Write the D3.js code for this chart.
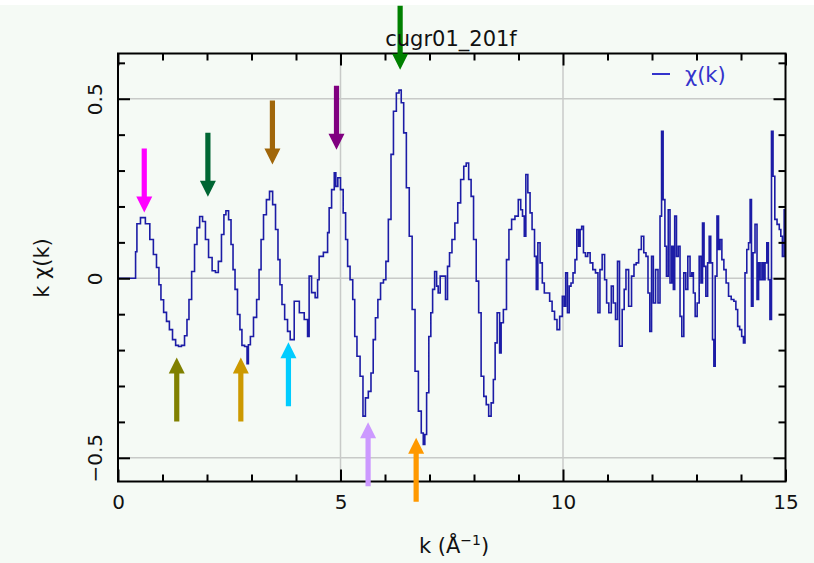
<!DOCTYPE html>
<html>
<head>
<meta charset="utf-8">
<script src="https://cdn.jsdelivr.net/npm/d3@7"></script>
<style>
  body { margin: 0; background: #f5faf5; }
  svg { display: block; font-family: "DejaVu Sans", Verdana, sans-serif; }
</style>
</head>
<body>
<script>
// k grid (1/Angstrom) and k*chi(k)
const kValues = [
  0, 0.39, 0.40, 0.45, 0.56, 0.67, 0.76, 0.83, 0.90, 0.94, 0.99, 1.06, 1.12, 1.19, 1.26, 1.33, 1.39, 1.46, 1.53, 1.57,
  1.62, 1.69, 1.75, 1.80, 1.87, 1.93, 2.00, 2.07, 2.16, 2.22, 2.29, 2.36, 2.40, 2.45, 2.52, 2.56, 2.61, 2.65, 2.72, 2.76,
  2.81, 2.88, 2.92, 2.94, 3.01, 3.08, 3.15, 3.19, 3.24, 3.30, 3.37, 3.44, 3.51, 3.57, 3.62, 3.66, 3.71, 3.78, 3.84, 3.90,
  4.02, 4.13, 4.24, 4.28, 4.31, 4.39, 4.47, 4.50, 4.54, 4.69, 4.73, 4.76, 4.84, 4.88, 4.91, 4.97, 5.03, 5.09, 5.14, 5.18,
  5.25, 5.30, 5.34, 5.40, 5.48, 5.53, 5.59, 5.66, 5.71, 5.76, 5.81, 5.87, 5.93, 6.00, 6.04, 6.11, 6.16, 6.22, 6.29, 6.34,
  6.39, 6.45, 6.51, 6.58, 6.64, 6.71, 6.79, 6.84, 6.88, 6.91, 6.96, 7.01, 7.05, 7.09, 7.14, 7.18, 7.21, 7.27, 7.33, 7.39,
  7.42, 7.48, 7.53, 7.61, 7.66, 7.74, 7.80, 7.85, 7.91, 7.96, 8.02, 8.08, 8.13, 8.19, 8.25, 8.30, 8.36, 8.41, 8.46, 8.49,
  8.55, 8.60, 8.62, 8.70, 8.76, 8.81, 8.88, 8.96, 9.03, 9.07, 9.11, 9.15, 9.18, 9.24, 9.28, 9.33, 9.39, 9.41, 9.46, 9.51,
  9.56, 9.60, 9.67, 9.73, 9.78, 9.84, 9.89, 9.96, 10.01, 10.04, 10.08, 10.12, 10.16, 10.20, 10.25, 10.29, 10.33, 10.37, 10.40, 10.44,
  10.48, 10.53, 10.58, 10.64, 10.70, 10.76, 10.81, 10.85, 10.91, 10.96, 11.00, 11.06, 11.11, 11.15, 11.21, 11.24, 11.30, 11.36, 11.39, 11.44,
  11.51, 11.57, 11.62, 11.67, 11.73, 11.79, 11.84, 11.89, 11.93, 11.97, 12.01, 12.05, 12.11, 12.16, 12.20, 12.23, 12.27, 12.31, 12.34, 12.39,
  12.42, 12.47, 12.49, 12.53, 12.57, 12.61, 12.65, 12.69, 12.74, 12.78, 12.83, 12.88, 12.91, 12.95, 12.99, 13.04, 13.08, 13.12, 13.15, 13.19,
  13.23, 13.27, 13.30, 13.34, 13.38, 13.40, 13.44, 13.48, 13.51, 13.55, 13.59, 13.64, 13.69, 13.75, 13.81, 13.87, 13.90, 13.95, 13.99, 14.04,
  14.07, 14.11, 14.15, 14.19, 14.22, 14.25, 14.29, 14.34, 14.38, 14.41, 14.45, 14.49, 14.52, 14.56, 14.60, 14.63, 14.67, 14.70, 14.74, 14.78,
  14.84, 14.88, 14.91, 14.95, 14.99
];
const chiValues = [
  0, 0, 0.074, 0.152, 0.169, 0.152, 0.108, 0.066, 0.030, -0.018, -0.060, -0.095, -0.120, -0.143, -0.171, -0.187, -0.190, -0.187, -0.160, -0.115,
  -0.059, 0.019, 0.094, 0.141, 0.172, 0.158, 0.108, 0.058, 0.021, 0.016, 0.047, 0.122, 0.177, 0.188, 0.163, 0.094, 0.024, -0.031, -0.101, -0.143,
  -0.187, -0.190, -0.238, -0.185, -0.162, -0.109, -0.059, 0.024, 0.108, 0.177, 0.219, 0.242, 0.205, 0.136, 0.052, -0.018, -0.073, -0.115, -0.148, -0.171,
  -0.064, -0.096, -0.115, -0.162, 0.006, -0.040, -0.054, -0.004, 0.061, 0.072, 0.127, 0.196, 0.247, 0.294, 0.256, 0.280, 0.247, 0.182, 0.108, 0.033,
  -0.004, -0.059, -0.162, -0.217, -0.273, -0.384, -0.333, -0.315, -0.264, -0.171, -0.110, -0.059, -0.013, -0.004, 0.047, 0.164, 0.345, 0.465, 0.516, 0.524,
  0.489, 0.405, 0.252, 0.117, -0.087, -0.259, -0.370, -0.431, -0.463, -0.435, -0.319, -0.162, -0.096, -0.031, 0.019, -0.022, -0.041, 0.006, 0.006, -0.059,
  0.033, 0.071, 0.108, 0.154, 0.210, 0.275, 0.312, 0.321, 0.275, 0.228, 0.108, -0.008, -0.096, -0.273, -0.329, -0.352, -0.384, -0.347, -0.282, -0.180,
  -0.096, -0.208, -0.124, -0.087, 0.052, 0.136, 0.164, 0.173, 0.219, 0.191, 0.173, 0.117, 0.289, 0.238, 0.182, 0.136, 0.061, -0.031, 0.099, 0.043,
  -0.013, -0.041, -0.041, -0.064, -0.092, -0.115, -0.143, -0.106, -0.050, -0.078, 0.015, -0.096, -0.022, -0.013, 0.015, 0.052, 0.136, 0.089, 0.136, 0.145,
  0.071, 0.061, 0.071, 0.043, 0.024, 0.015, -0.096, 0.024, 0.066, -0.004, -0.069, -0.096, -0.022, -0.069, -0.115, 0.047, -0.189, -0.087, -0.031, 0.024,
  -0.078, 0.006, 0.038, 0.043, 0.080, 0.117, 0.071, 0.061, -0.041, -0.148, 0.061, -0.069, 0.024, -0.069, 0.173, 0.409, 0.219, 0.089, 0.006, 0.191,
  -0.013, 0.089, -0.031, 0.173, 0.061, 0.089, -0.106, -0.162, 0.015, -0.031, 0.061, 0.006, 0.015, -0.041, -0.106, -0.069, 0.061, -0.013, 0.154, 0.033,
  -0.050, 0.043, 0.117, 0.043, -0.171, -0.245, 0.006, 0.173, 0.080, 0.108, 0.052, 0.024, -0.013, -0.050, -0.059, -0.064, -0.087, -0.134, -0.143, -0.162,
  -0.180, 0.015, 0.080, 0.099, 0.219, -0.078, 0.071, 0.150, -0.059, 0.043, -0.004, 0.043, -0.004, 0.043, 0.099, -0.004, -0.115, 0.409, 0.284, 0.164,
  0.150, 0.136, 0.117, 0.061, 0.191
];

// arrows marking peaks (down) and troughs (up): k position and tip value
const arrowK   = [0.59, 2.02, 3.47, 4.91, 6.34, 1.32, 2.76, 3.83, 5.62, 6.70];
const arrowTip = [0.183, 0.227, 0.317, 0.358, 0.581, -0.221, -0.221, -0.178, -0.401, -0.444];
const arrowDir = ["down", "down", "down", "down", "down", "up", "up", "up", "up", "up"];
const arrowColors = ["#ff00ff", "#006633", "#a0660a", "#800080", "#008000",
                     "#808000", "#cc9900", "#00ccff", "#cc99ff", "#ff9900"];

const xTicks = [0, 5, 10, 15];
const xTickLabels = ["0", "5", "10", "15"];
const xMinor = [1, 2, 3, 4, 6, 7, 8, 9, 11, 12, 13, 14];
const yTicks = [-0.5, 0, 0.5];
const yTickLabels = ["\u22120.5", "0", "0.5"];
const yMinor = [-0.4, -0.3, -0.2, -0.1, 0.1, 0.2, 0.3, 0.4, 0.6];

const title = "cugr01_201f";

const width = 814, height = 563;
const plotLeft = 118, plotRight = 785.5, plotTop = 53.5, plotBottom = 481.5;

let svg = d3.select('body').append('svg')
    .attr('width', width)
    .attr('height', height)

svg.append('rect').attr('width', width).attr('height', height).attr('fill', '#f5faf5')
svg.append('rect').attr('width', width).attr('height', 5).attr('fill', '#ffffff')

let xScale = d3.scaleLinear().domain([0, 15]).range([plotLeft, plotRight])
let yScale = d3.scaleLinear().domain([-0.566, 0.626]).range([plotBottom, plotTop])

// grid lines
svg.append('g').selectAll('line')
    .data(xTicks.slice(1, -1))
    .enter().append('line')
    .attr('x1', d => xScale(d)).attr('x2', d => xScale(d))
    .attr('y1', plotTop).attr('y2', plotBottom)
    .attr('stroke', '#c8cac8').attr('stroke-width', 1.5)
svg.append('g').selectAll('line')
    .data(yTicks)
    .enter().append('line')
    .attr('x1', plotLeft).attr('x2', plotRight)
    .attr('y1', d => yScale(d)).attr('y2', d => yScale(d))
    .attr('stroke', '#c8cac8').attr('stroke-width', 1.5)

// the chi(k) curve
svg.append('clipPath').attr('id', 'plot-clip')
    .append('rect').attr('x', plotLeft).attr('y', plotTop)
    .attr('width', plotRight - plotLeft).attr('height', plotBottom - plotTop)

let line = d3.line()
    .x((d, i) => xScale(kValues[i]))
    .y(d => yScale(d))
    .curve(d3.curveStep)

svg.append('path')
    .datum(chiValues)
    .attr('clip-path', 'url(#plot-clip)')
    .attr('fill', 'none')
    .attr('stroke', '#1c1ca6')
    .attr('stroke-width', 1.6)
    .attr('d', line)

// axes: ticks point inwards on all four sides
function styleAxis(g) {
    g.select('.domain').remove()
    g.selectAll('line').attr('stroke', '#000').attr('stroke-width', 2)
    g.selectAll('text').attr('font-size', 20).attr('fill', '#111')
}

svg.append('g').attr('transform', `translate(0,${plotBottom})`)
    .call(d3.axisBottom(xScale).tickValues(xTicks).tickSize(-12).tickPadding(13)
        .tickFormat((d, i) => xTickLabels[i]))
    .call(styleAxis)
    .attr('font-family', null)
svg.append('g').attr('transform', `translate(0,${plotBottom})`)
    .call(d3.axisBottom(xScale).tickValues(xMinor).tickSize(-7).tickFormat(''))
    .call(styleAxis)
svg.append('g').attr('transform', `translate(0,${plotTop})`)
    .call(d3.axisTop(xScale).tickValues(xTicks).tickSize(-12).tickFormat(''))
    .call(styleAxis)
svg.append('g').attr('transform', `translate(0,${plotTop})`)
    .call(d3.axisTop(xScale).tickValues(xMinor).tickSize(-7).tickFormat(''))
    .call(styleAxis)

let yLeft = svg.append('g').attr('transform', `translate(${plotLeft},0)`)
    .call(d3.axisLeft(yScale).tickValues(yTicks).tickSize(-12)
        .tickFormat((d, i) => yTickLabels[i]))
    .call(styleAxis)
    .attr('font-family', null)
yLeft.selectAll('text')
    .attr('transform', 'rotate(-90)')
    .attr('x', 0).attr('y', -16).attr('dy', 0)
    .attr('text-anchor', 'middle')
svg.append('g').attr('transform', `translate(${plotLeft},0)`)
    .call(d3.axisLeft(yScale).tickValues(yMinor).tickSize(-7).tickFormat(''))
    .call(styleAxis)
svg.append('g').attr('transform', `translate(${plotRight},0)`)
    .call(d3.axisRight(yScale).tickValues(yTicks).tickSize(-12).tickFormat(''))
    .call(styleAxis)
svg.append('g').attr('transform', `translate(${plotRight},0)`)
    .call(d3.axisRight(yScale).tickValues(yMinor).tickSize(-7).tickFormat(''))
    .call(styleAxis)

// frame
svg.append('rect')
    .attr('x', plotLeft).attr('y', plotTop)
    .attr('width', plotRight - plotLeft).attr('height', plotBottom - plotTop)
    .attr('fill', 'none').attr('stroke', '#000').attr('stroke-width', 2)

// arrows
const arrowLen = 64, headLen = 16, headHalf = 8, shaftHalf = 2.6;
svg.append('g').selectAll('path')
    .data(arrowK)
    .enter().append('path')
    .attr('fill', (d, i) => arrowColors[i])
    .attr('d', (d, i) => {
        let x = xScale(d), y = yScale(arrowTip[i]);
        let s = arrowDir[i] === 'down' ? -1 : 1;   // direction from tip to tail
        let p = d3.path();
        p.moveTo(x, y);
        p.lineTo(x + headHalf, y + s * headLen);
        p.lineTo(x + shaftHalf, y + s * headLen);
        p.lineTo(x + shaftHalf, y + s * arrowLen);
        p.lineTo(x - shaftHalf, y + s * arrowLen);
        p.lineTo(x - shaftHalf, y + s * headLen);
        p.lineTo(x - headHalf, y + s * headLen);
        p.closePath();
        return p.toString();
    })

// title, legend, axis labels
svg.append('text')
    .attr('x', 451).attr('y', 46)
    .attr('text-anchor', 'middle')
    .attr('font-size', 21).attr('fill', '#111')
    .text(title)

svg.append('line')
    .attr('x1', 652).attr('x2', 670).attr('y1', 74).attr('y2', 74)
    .attr('stroke', '#3333cc').attr('stroke-width', 2)
svg.append('text')
    .attr('x', 685).attr('y', 82)
    .attr('font-size', 21).attr('fill', '#3333cc')
    .text('\u03c7(k)')

svg.append('text')
    .attr('transform', 'translate(49,268) rotate(-90)')
    .attr('text-anchor', 'middle')
    .attr('font-size', 21).attr('fill', '#111')
    .text('k \u03c7(k)')

let xLabel = svg.append('text')
    .attr('x', 454).attr('y', 553)
    .attr('text-anchor', 'middle')
    .attr('font-size', 21).attr('fill', '#111')
xLabel.append('tspan').text('k (\u00c5')
xLabel.append('tspan').attr('dy', -8).attr('font-size', 14).text('\u22121')
xLabel.append('tspan').attr('dy', 8).text(')')
</script>
</body>
</html>
